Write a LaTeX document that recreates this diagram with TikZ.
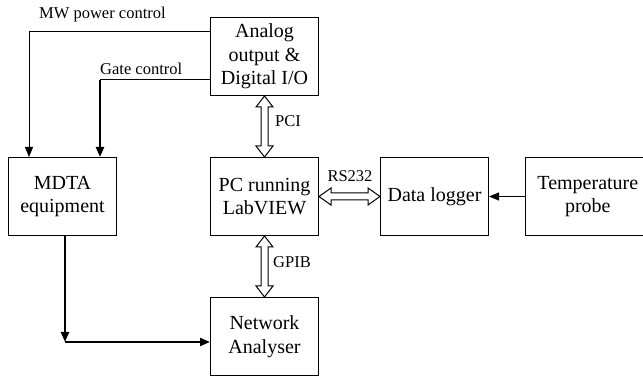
\documentclass[tikz,border=0pt]{standalone}
\usepackage{fontspec}
\setmainfont{Liberation Serif}
\usetikzlibrary{positioning}
\usetikzlibrary{calc}
\usetikzlibrary{arrows.meta}
\tikzset{%
  box/.style = {rectangle,draw,line width=1pt,minimum width=108pt,
        minimum height=78pt,align=center,
        font=\fontsize{20}{23.5}\selectfont},
  tag/.style = {inner sep=0pt,font=\fontsize{16.5}{19}\selectfont},
  sigarrow/.style = {-{Triangle[length=10pt,width=8pt]},line width=1pt},
  heavyarrow/.style = {-{Triangle[length=10pt,width=8pt]},line width=2.2pt},
  hollow/.style = {draw,fill=white,line width=1pt,line join=miter}
}
\newcommand{\hollowv}[2]{%
  \path[hollow] let \p1=(#1.south), \p2=(#2.north) in
    (\x1,\y1) -- (\x1+8.5pt,\y1-11pt) -- (\x1+3.5pt,\y1-11pt)
    -- (\x1+3.5pt,\y2+11pt) -- (\x1+8.5pt,\y2+11pt) -- (\x1,\y2)
    -- (\x1-8.5pt,\y2+11pt) -- (\x1-3.5pt,\y2+11pt)
    -- (\x1-3.5pt,\y1-11pt) -- (\x1-8.5pt,\y1-11pt) -- cycle;}
\newcommand{\hollowh}[2]{%
  \path[hollow] let \p1=(#1.east), \p2=(#2.west) in
    (\x1,\y1) -- (\x1+12pt,\y1+8.5pt) -- (\x1+12pt,\y1+3.5pt)
    -- (\x2-12pt,\y1+3.5pt) -- (\x2-12pt,\y1+8.5pt) -- (\x2,\y1)
    -- (\x2-12pt,\y1-8.5pt) -- (\x2-12pt,\y1-3.5pt)
    -- (\x1+12pt,\y1-3.5pt) -- (\x1+12pt,\y1-8.5pt) -- cycle;}

\begin{document}
\begin{tikzpicture}[x=1pt,y=-1pt]
\useasboundingbox (0,0) rectangle (643,379);
\clip (0,0) rectangle (643,379);

% boxes
\node[box] (pc) at (264.5,196.5) {PC running\\LabVIEW};
\node[box, above=61pt of pc] (analog) {Analog\\output \&\\Digital I/O};
\node[box, below=61pt of pc] (network) {Network\\Analyser};
\node[box, left=93pt of pc] (mdta) {MDTA\\equipment};
\node[box, right=61pt of pc] (logger) {Data logger};
\node[box, right=36pt of logger, minimum width=124pt, text width=118pt] (temp) {Temperature\\probe};

% control lines
\draw[sigarrow] ([yshift=-15pt]analog.north west) -| ([xshift=21pt]mdta.north west);
\coordinate (gatebend) at ([yshift=16pt]analog.south west -| 100,0);
\draw[line width=1pt] ([yshift=16pt]analog.south west) -- (gatebend);
\draw[heavyarrow] (gatebend) -- (gatebend |- mdta.north);

% signal to the analyser
\coordinate (rfbend) at (65,342);
\draw[heavyarrow] (rfbend |- mdta.south) -- (rfbend);
\draw[heavyarrow] (rfbend) -- (rfbend -| network.west);
\draw[sigarrow] (temp.west) -- (logger.east);

% buses
\hollowv{analog}{pc}
\hollowv{pc}{network}
\hollowh{pc}{logger}

% labels
\node[tag, anchor=base west] (mwtag) at (39,19) {MW power control};
\node[tag, anchor=base west] (gatetag) at (100,75) {Gate control};
\node[tag, anchor=base west] (pcitag) at (275,127) {PCI};
\node[tag, anchor=base] (rstag) at (350,182) {RS232};
\node[tag, anchor=base west] (gpibtag) at (273,268) {GPIB};
\end{tikzpicture}
\end{document}
